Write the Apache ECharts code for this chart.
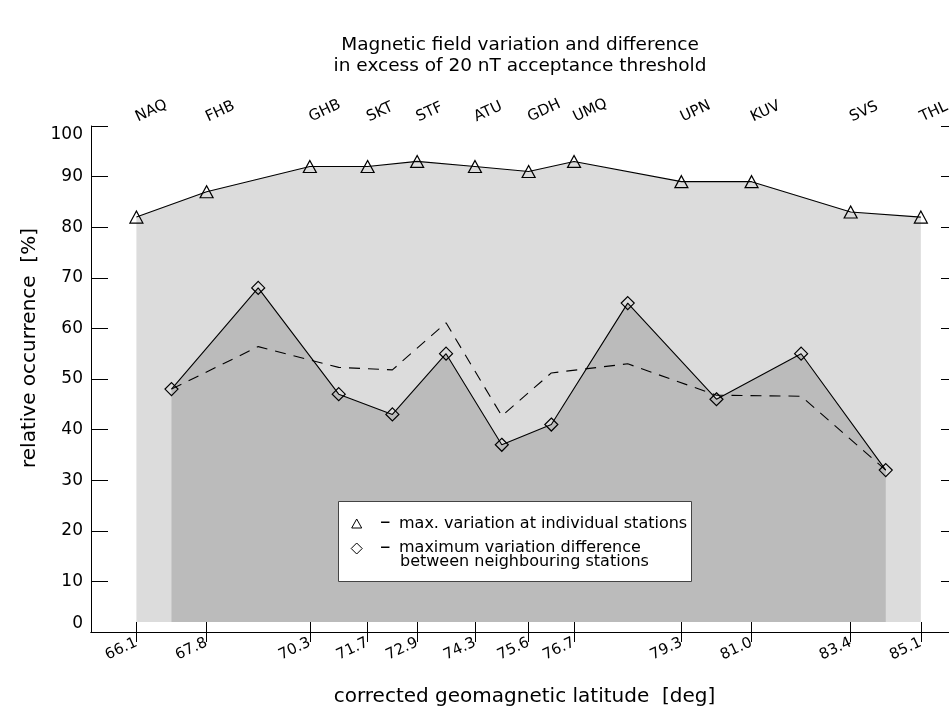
<!DOCTYPE html>
<html lang="en">
<head>
    <meta charset="UTF-8">
    <style>
        body { margin: 0; padding: 0; background: #fff; }
        #chart { width: 949px; height: 711px; }
    </style>
    <script src="https://cdn.jsdelivr.net/npm/echarts@6/dist/echarts.min.js"></script>
</head>
<body>
<div id="chart"></div>
<script>
    // stations and their corrected geomagnetic latitude
    const stationNames = ['NAQ', 'FHB', 'GHB', 'SKT', 'STF', 'ATU', 'GDH', 'UMQ', 'UPN', 'KUV', 'SVS', 'THL'];
    const stationLat = [66.1, 67.8, 70.3, 71.7, 72.9, 74.3, 75.6, 76.7, 79.3, 81.0, 83.4, 85.1];
    const maxVariation = [82, 87, 92, 92, 93, 92, 91, 93, 89, 89, 83, 82];

    // neighbouring pairs (midway between stations)
    const pairLat = [66.95, 69.05, 71.0, 72.3, 73.6, 74.95, 76.15, 78.0, 80.15, 82.2, 84.25];
    const maxDifference = [48, 68, 47, 43, 55, 37, 41, 65, 46, 55, 32];
    const dashedValues = [48, 56.4, 52.3, 51.8, 61.1, 42.7, 51.2, 53.0, 46.8, 46.6, 32];

    const font = 'DejaVu Sans';
    const legendFont = '16px "DejaVu Sans"';

    function pairs(xs, ys) {
        return xs.map((x, i) => [x, ys[i]]);
    }

    const chart = echarts.init(document.getElementById('chart'), null, { renderer: 'canvas' });

    const xBase = {
        type: 'value',
        min: 65,
        max: 86,
        splitLine: { show: false },
        axisLine: { show: true, lineStyle: { color: '#000', width: 1 } },
        axisTick: { show: true, inside: true, length: 10, customValues: stationLat, lineStyle: { color: '#000' } }
    };

    const yBase = {
        type: 'value',
        min: 0,
        max: 100,
        interval: 10,
        splitLine: { show: false },
        axisLine: { show: true, lineStyle: { color: '#000', width: 1 } },
        axisTick: { show: true, inside: true, length: 17, lineStyle: { color: '#000' } }
    };

    function legendText(x, y, text, f) {
        return {
            type: 'text', x: x, y: y, z: 101,
            style: { text: text, font: f || legendFont, fill: '#000', textVerticalAlign: 'middle' }
        };
    }

    const option = {
        animation: false,
        backgroundColor: '#fff',
        grid: { left: 91, top: 126, width: 867, height: 506, containLabel: false, outerBoundsMode: 'none' },
        xAxis: [
            Object.assign({}, xBase, {
                position: 'bottom',
                name: 'corrected geomagnetic latitude  [deg]',
                nameLocation: 'middle',
                nameGap: 55,
                nameTextStyle: { fontFamily: font, fontSize: 20, color: '#000' },
                axisLabel: {
                    customValues: stationLat,
                    rotate: 25,
                    margin: 10,
                    fontFamily: font,
                    fontSize: 15,
                    color: '#000',
                    formatter: v => v.toFixed(1)
                }
            }),
            Object.assign({}, xBase, {
                position: 'top',
                axisLabel: {
                    customValues: stationLat,
                    rotate: 25,
                    margin: 8,
                    fontFamily: font,
                    fontSize: 15,
                    color: '#000',
                    formatter: v => {
                        const i = stationLat.findIndex(s => Math.abs(s - v) < 1e-6);
                        return i >= 0 ? stationNames[i] : '';
                    }
                }
            })
        ],
        yAxis: [
            Object.assign({}, yBase, {
                position: 'left',
                name: 'relative occurrence  [%]',
                nameLocation: 'middle',
                nameGap: 50,
                nameTextStyle: { fontFamily: font, fontSize: 20, color: '#000', padding: [0, 0, 0, 62] },
                axisLabel: {
                    margin: 8,
                    fontFamily: font,
                    fontSize: 17,
                    color: '#000',
                    verticalAlignMinLabel: 'bottom',
                    verticalAlignMaxLabel: 'top'
                }
            }),
            Object.assign({}, yBase, {
                position: 'right',
                axisLabel: { show: false }
            })
        ],
        graphic: [
            {
                type: 'text', x: 520, y: 45,
                style: { text: 'Magnetic field variation and difference', font: '18.5px "DejaVu Sans"', fill: '#000', textAlign: 'center', textVerticalAlign: 'middle' }
            },
            {
                type: 'text', x: 520, y: 66,
                style: { text: 'in excess of 20 nT acceptance threshold', font: '18.5px "DejaVu Sans"', fill: '#000', textAlign: 'center', textVerticalAlign: 'middle' }
            },
            {
                type: 'rect', z: 100,
                shape: { x: 338.5, y: 501.5, width: 353, height: 80 },
                style: { fill: '#fff', stroke: '#444', lineWidth: 1 }
            },
            {
                type: 'polygon', z: 101,
                shape: { points: [[351.7, 528], [361.7, 528], [356.7, 519]] },
                style: { fill: '#fff', stroke: '#000', lineWidth: 1 }
            },
            {
                type: 'polygon', z: 101,
                shape: { points: [[356.7, 543], [362.2, 548.5], [356.7, 554], [351.2, 548.5]] },
                style: { fill: '#fff', stroke: '#000', lineWidth: 1 }
            },
            legendText(380, 523, '\u2013', '21px "DejaVu Sans"'),
            legendText(399, 523.5, 'max. variation at individual stations'),
            legendText(380, 548, '\u2013', '21px "DejaVu Sans"'),
            legendText(399, 548.3, 'maximum variation difference'),
            legendText(400, 561.7, 'between neighbouring stations')
        ],
        series: [
            {
                name: 'max. variation at individual stations',
                type: 'line',
                data: pairs(stationLat, maxVariation),
                symbol: 'triangle',
                symbolSize: [13, 12],
                itemStyle: { color: 'rgba(0,0,0,0)', borderColor: '#000', borderWidth: 1.2 },
                lineStyle: { color: '#000', width: 1.1 },
                areaStyle: { color: '#dcdcdc', opacity: 1, origin: 2 },
                z: 2
            },
            {
                name: 'maximum variation difference between neighbouring stations',
                type: 'line',
                data: pairs(pairLat, maxDifference),
                symbol: 'diamond',
                symbolSize: [13, 13],
                itemStyle: { color: 'rgba(0,0,0,0)', borderColor: '#000', borderWidth: 1.2 },
                lineStyle: { color: '#000', width: 1.1 },
                areaStyle: { color: '#bbbbbb', opacity: 1, origin: 2 },
                z: 3
            },
            {
                name: 'dashed',
                type: 'line',
                data: pairs(pairLat, dashedValues),
                symbol: 'none',
                lineStyle: { color: '#000', width: 1.1, type: [11, 8] },
                z: 4
            }
        ]
    };

    chart.setOption(option);
</script>
</body>
</html>
